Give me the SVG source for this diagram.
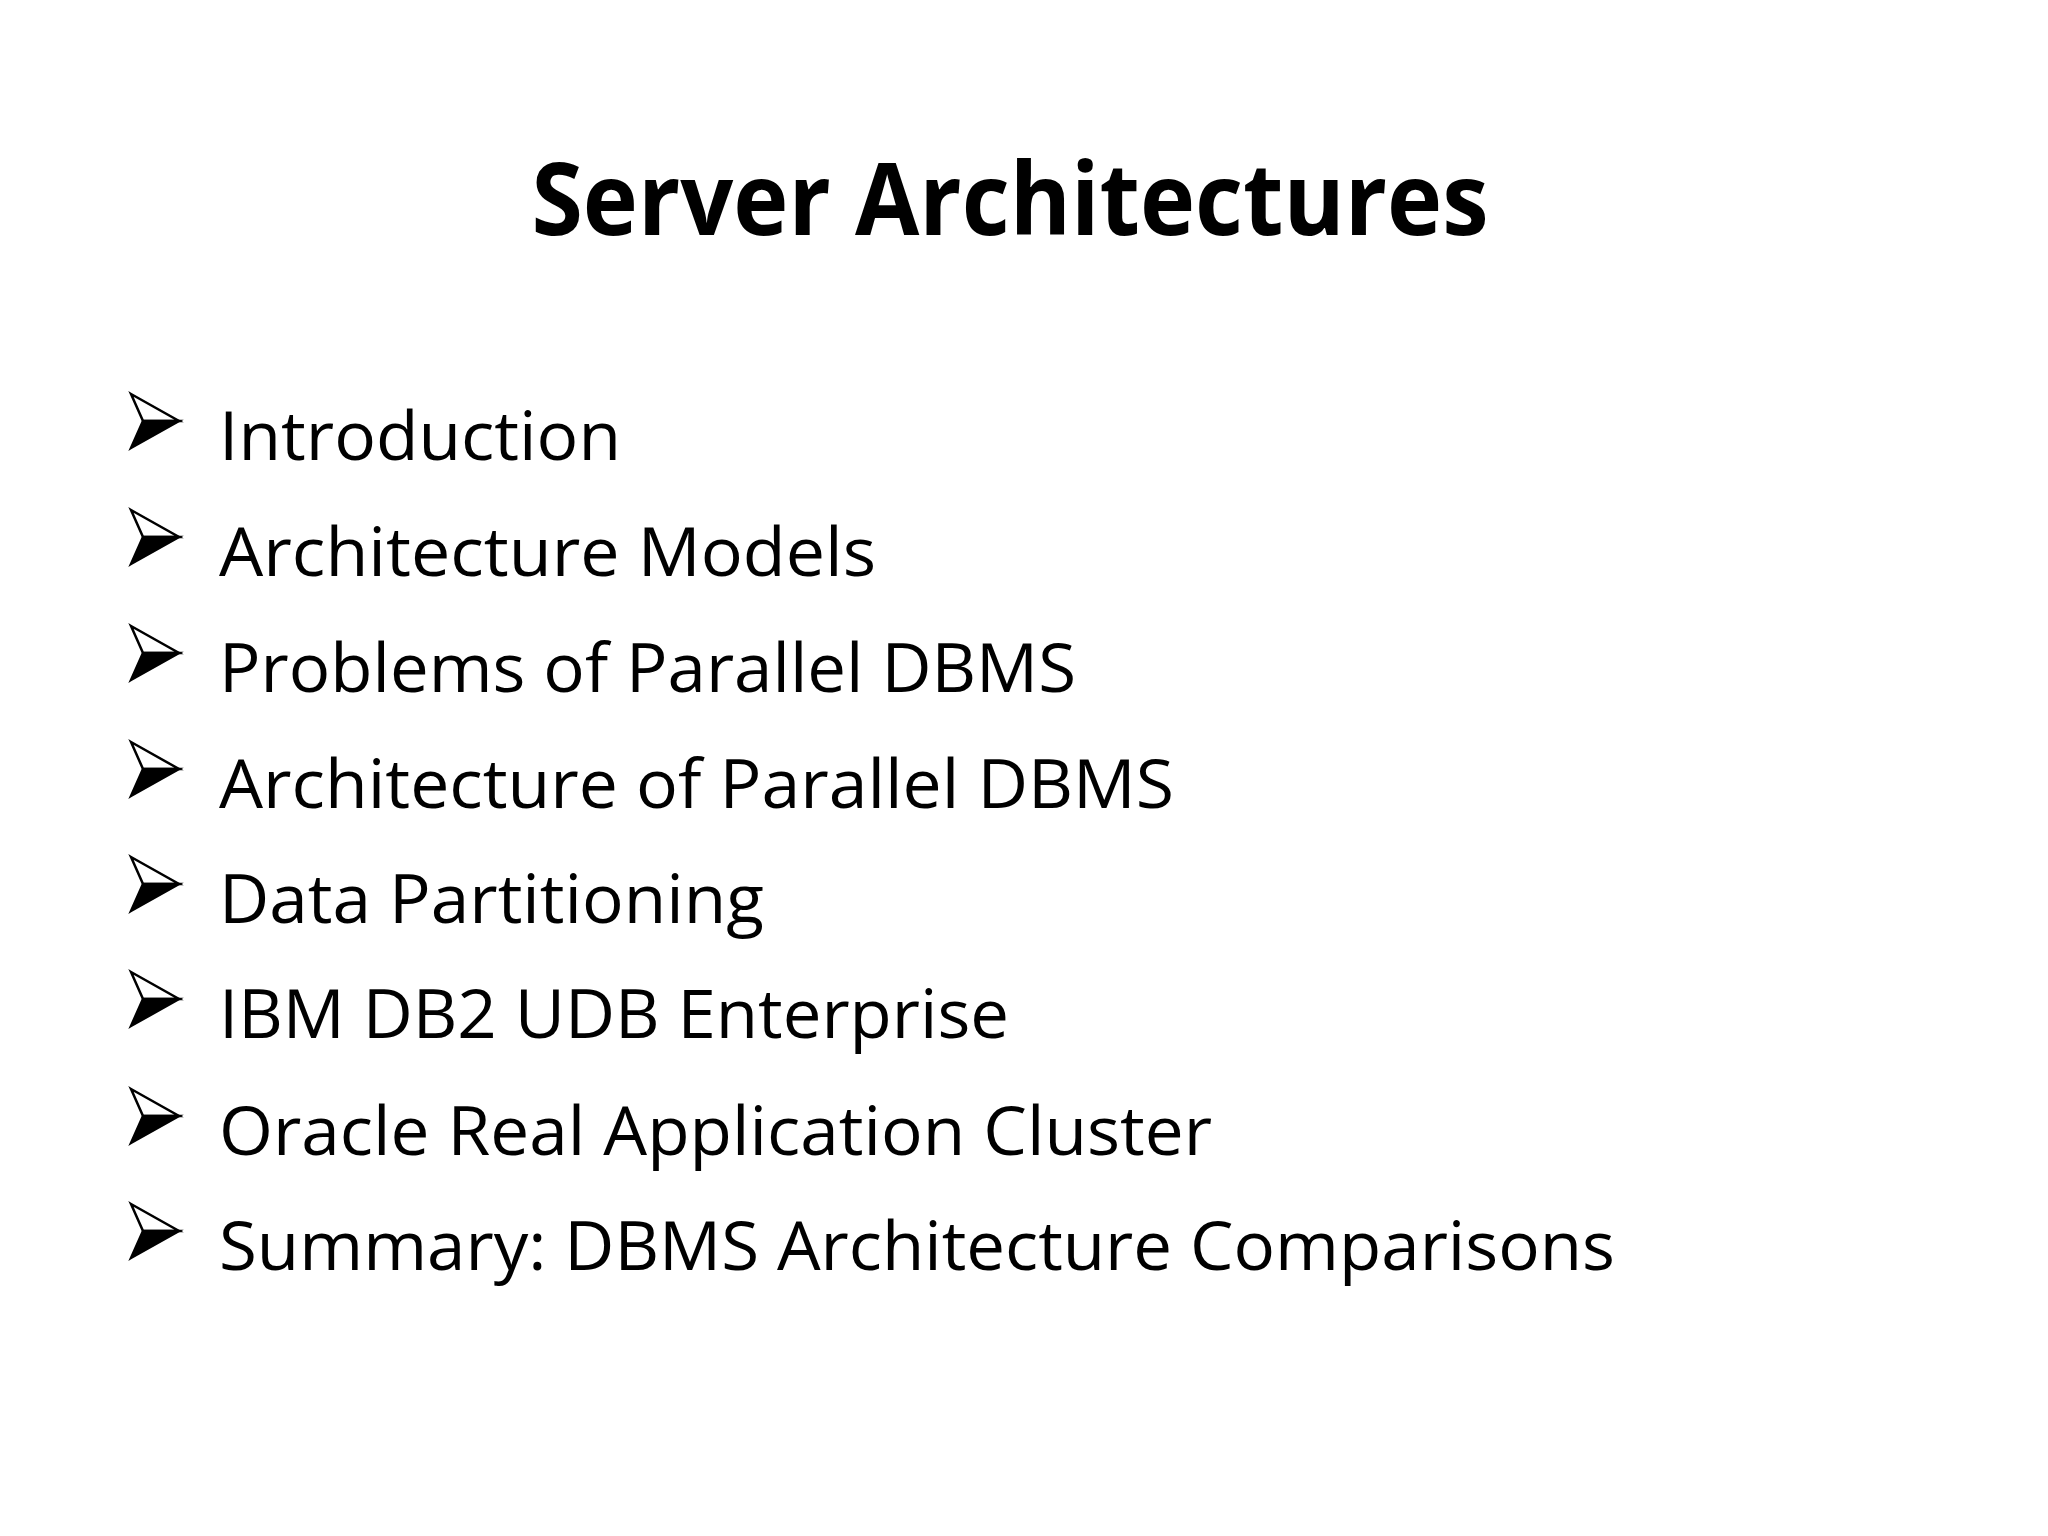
<svg xmlns="http://www.w3.org/2000/svg" width="2048" height="1536" viewBox="0 0 2048 1536">
<style>
.t{font-family:"Open Sans","Liberation Sans",sans-serif;font-size:68px;fill:#000}
.h{font-family:"Open Sans","Liberation Sans",sans-serif;font-size:100px;font-weight:bold;fill:#000}
</style>
<defs>
<g id="b">
<polygon points="0,-27 48,0 12,0" fill="#fff" stroke="#000" stroke-width="2.5"/>
<polygon points="0,27 48,0 12,0" fill="#000" stroke="#000" stroke-width="2.5"/>
</g>
</defs>
<rect width="2048" height="1536" fill="#fff"/>
<text class="h" x="1010" y="235" text-anchor="middle" textLength="957" lengthAdjust="spacingAndGlyphs">Server Architectures</text>
<g id="i1"><use href="#b" x="131" y="421"/><text class="t" x="219" y="460" textLength="402" lengthAdjust="spacingAndGlyphs">Introduction</text></g>
<g id="i2"><use href="#b" x="131" y="537"/><text class="t" x="219" y="576" textLength="657" lengthAdjust="spacingAndGlyphs">Architecture Models</text></g>
<g id="i3"><use href="#b" x="131" y="653"/><text class="t" x="219" y="692" textLength="857" lengthAdjust="spacingAndGlyphs">Problems of Parallel DBMS</text></g>
<g id="i4"><use href="#b" x="131" y="769"/><text class="t" x="219" y="808" textLength="955" lengthAdjust="spacingAndGlyphs">Architecture of Parallel DBMS</text></g>
<g id="i5"><use href="#b" x="131" y="884"/><text class="t" x="219" y="923" textLength="545" lengthAdjust="spacingAndGlyphs">Data Partitioning</text></g>
<g id="i6"><use href="#b" x="131" y="999"/><text class="t" x="219" y="1038" textLength="790" lengthAdjust="spacingAndGlyphs">IBM DB2 UDB Enterprise</text></g>
<g id="i7"><use href="#b" x="131" y="1116"/><text class="t" x="219" y="1155" textLength="993" lengthAdjust="spacingAndGlyphs">Oracle Real Application Cluster</text></g>
<g id="i8"><use href="#b" x="131" y="1231"/><text class="t" x="219" y="1270" textLength="1396" lengthAdjust="spacingAndGlyphs">Summary: DBMS Architecture Comparisons</text></g>
<g id="connectors"/>
</svg>
